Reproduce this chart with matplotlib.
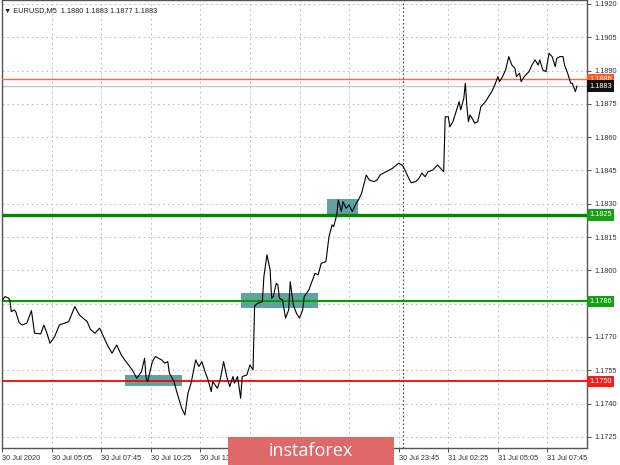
import matplotlib
matplotlib.use('Agg')
import matplotlib.pyplot as plt
import matplotlib.transforms as mtransforms
from matplotlib.patches import Rectangle

plt.rcParams['font.family'] = ['Liberation Sans', 'DejaVu Sans']

# barras M5 contadas desde 30 Jul 02:25 y precio de cierre
bars = [0, 2, 4, 5, 6, 8, 9, 11, 13, 16, 19, 21, 25, 27, 29, 31, 34, 37, 43, 47,
        50, 55, 57, 60, 63, 65, 68, 71, 74, 77, 80, 84, 87, 90, 92, 93, 94, 97, 99, 101,
        103, 105, 107, 108, 111, 113, 116, 118, 120, 122, 125, 127, 129, 131, 133, 135, 136, 139, 141, 143,
        145, 147, 149, 150, 152, 154, 155, 158, 160, 162, 163, 165, 168, 169, 171, 173, 174, 175, 177, 178,
        179, 181, 183, 185, 186, 188, 190, 192, 194, 195, 198, 200, 202, 204, 206, 209, 211, 213, 214, 216,
        217, 219, 220, 222, 224, 226, 228, 230, 232, 234, 235, 237, 240, 242, 244, 246, 248, 250, 252, 256,
        258, 259, 262, 264, 267, 269, 271, 273, 275, 278, 281, 284, 285, 286, 288, 289, 291, 293, 295, 296,
        298, 299, 300, 301, 302, 304, 305, 307, 309, 312, 314, 316, 318, 320, 321, 323, 325, 327, 329, 331,
        332, 334, 335, 337, 340, 342, 344, 346, 347, 349, 351, 353, 355, 357, 358, 360, 362, 363, 365, 367,
        368, 370, 371]
close = [1.17864, 1.17882, 1.17876, 1.17867, 1.17814, 1.17822, 1.17812, 1.17765, 1.17754, 1.17762,
         1.17819, 1.17717, 1.17714, 1.17754, 1.17717, 1.17672, 1.17702, 1.17754, 1.17769, 1.17837,
         1.17799, 1.17769, 1.17735, 1.17717, 1.17740, 1.17709, 1.17664, 1.17627, 1.17664, 1.17619,
         1.17589, 1.17552, 1.17514, 1.17544, 1.17604, 1.17514, 1.17499, 1.17589, 1.17612, 1.17604,
         1.17597, 1.17582, 1.17589, 1.17537, 1.17499, 1.17447, 1.17379, 1.17349, 1.17447, 1.17492,
         1.17597, 1.17567, 1.17589, 1.17544, 1.17507, 1.17454, 1.17499, 1.17469, 1.17514, 1.17589,
         1.17522, 1.17477, 1.17522, 1.17492, 1.17522, 1.17424, 1.17522, 1.17529, 1.17574, 1.17552,
         1.17840, 1.17852, 1.17859, 1.17972, 1.18070, 1.18002, 1.17875, 1.17882, 1.17942, 1.17935,
         1.17875, 1.17867, 1.17785, 1.17822, 1.17949, 1.17844, 1.17807, 1.17785, 1.17822, 1.17882,
         1.17912, 1.17949, 1.17987, 1.17980, 1.18032, 1.18039, 1.18152, 1.18205, 1.18197, 1.18250,
         1.18317, 1.18265, 1.18310, 1.18280, 1.18295, 1.18265, 1.18295, 1.18317, 1.18347, 1.18400,
         1.18430, 1.18407, 1.18400, 1.18407, 1.18430, 1.18438, 1.18445, 1.18452, 1.18460, 1.18483,
         1.18475, 1.18467, 1.18422, 1.18395, 1.18400, 1.18415, 1.18438, 1.18422, 1.18445, 1.18452,
         1.18475, 1.18452, 1.18445, 1.18692, 1.18692, 1.18647, 1.18670, 1.18715, 1.18760, 1.18723,
         1.18775, 1.18843, 1.18737, 1.18670, 1.18700, 1.18678, 1.18663, 1.18670, 1.18737, 1.18760,
         1.18783, 1.18805, 1.18835, 1.18873, 1.18850, 1.18873, 1.18903, 1.18963, 1.18925, 1.18910,
         1.18873, 1.18888, 1.18850, 1.18873, 1.18895, 1.18925, 1.18948, 1.18925, 1.18948, 1.18903,
         1.18895, 1.18978, 1.18963, 1.18918, 1.18955, 1.18963, 1.18963, 1.18925, 1.18888, 1.18843,
         1.18843, 1.18805, 1.18830]

# las etiquetas de 15:45, 18:25 y 21:05 quedan tapadas por el logo
tick_bars = [0, 32, 64, 96, 128, 160, 192, 224, 256, 288, 320, 352]
tick_labels = ['30 Jul 2020', '30 Jul 05:05', '30 Jul 07:45', '30 Jul 10:25', '30 Jul 13:05',
               '', '', '', '30 Jul 23:45', '31 Jul 02:25',
               '31 Jul 05:05', '31 Jul 07:45']
price_ticks = [1.1725, 1.1740, 1.1755, 1.1770, 1.1785, 1.1800, 1.1815, 1.1830,
               1.1845, 1.1860, 1.1875, 1.1890, 1.1905, 1.1920]
separator_bar = 259  # 31 Jul 00:00

# niveles horizontales
levels = [1.1825, 1.1786, 1.1750]
level_colors = ['#008800', '#00a000', '#ff0000']
level_widths = [2.4, 1.5, 1.3]
ask, bid = 1.1886, 1.1883

# zonas marcadas
zone_bars = [(79.5, 116), (154, 204), (209.5, 230)]
zone_prices = [(1.1748, 1.1753), (1.1783, 1.1790), (1.1824, 1.1832)]

fig = plt.figure(figsize=(6.2, 4.65), dpi=100)
ax = fig.add_axes([2 / 620, 17 / 465, 585 / 620, 448 / 465])

ax.set_xlim(0, 377.5)
ax.set_ylim(1.17200, 1.19218)

# rejilla punteada
for b in tick_bars[1:]:
    ax.axvline(b, color='#c4c4c4', lw=0.7, ls=(0, (2, 3)), zorder=1)
for p in price_ticks:
    ax.axhline(p, color='#c4c4c4', lw=0.7, ls=(0, (2, 3)), zorder=1)
ax.axvline(separator_bar, color='#444444', lw=0.8, ls=(0, (1.5, 2)), zorder=1)

for (b0, b1), (p0, p1) in zip(zone_bars, zone_prices):
    ax.add_patch(Rectangle((b0, p0), b1 - b0, p1 - p0, facecolor='#4f9898',
                           edgecolor='none', alpha=0.9, zorder=2))

for lv, c, w in zip(levels, level_colors, level_widths):
    ax.axhline(lv, color=c, lw=w, zorder=3)
ax.axhline(ask, color='#ff6a3d', lw=1.0, zorder=3)
ax.axhline(bid, color='#c8c8c8', lw=1.0, zorder=2)

ax.plot(bars, close, color='black', lw=0.8, zorder=4)

# ejes
for s in ax.spines.values():
    s.set_color('#555555')
    s.set_linewidth(1.0)
ax.yaxis.tick_right()
ax.set_yticks(price_ticks)
# la etiqueta 1.1785 queda bajo la caja del nivel 1.1786
ax.set_yticklabels(['' if abs(p - 1.1785) < 1e-6 else f'{p:.4f}' for p in price_ticks])
ax.set_xticks(tick_bars)
ax.set_xticklabels(tick_labels, ha='left')
ax.tick_params(axis='y', labelsize=5.3, length=3, width=0.6, pad=2, colors='#333333')
ax.tick_params(axis='x', labelsize=5.3, length=3, width=0.6, pad=2, colors='#333333')

# etiquetas de precio a la derecha
trans = mtransforms.blended_transform_factory(ax.transAxes, ax.transData)
boxes = [(ask, '#ff5a20'), (bid, '#111111'),
         (levels[0], '#16a016'), (levels[1], '#16a016'), (levels[2], '#ff1a1a')]
for p, c in boxes:
    ax.text(1.004, p, f'{p:.4f}', transform=trans, fontsize=5.3, color='white',
            va='center', ha='left', clip_on=False, zorder=6,
            bbox=dict(boxstyle='square,pad=0.3', facecolor=c, edgecolor='none'))

ax.text(0.004, 0.985, '\u25bc EURUSD,M5  1.1880 1.1883 1.1877 1.1883', transform=ax.transAxes,
        fontsize=5.3, color='#222222', va='top', ha='left', zorder=6)

# marca de agua
fig.add_artist(Rectangle((228 / 620, 0), 166 / 620, 28 / 465, transform=fig.transFigure,
                         facecolor='#df6868', edgecolor='none', zorder=10))
fig.text(311 / 620, 14 / 465, 'instaforex', color='white', fontsize=13,
         family=['Open Sans', 'DejaVu Sans'], ha='center', va='center', zorder=11)

fig.savefig('out.png', dpi=100)
